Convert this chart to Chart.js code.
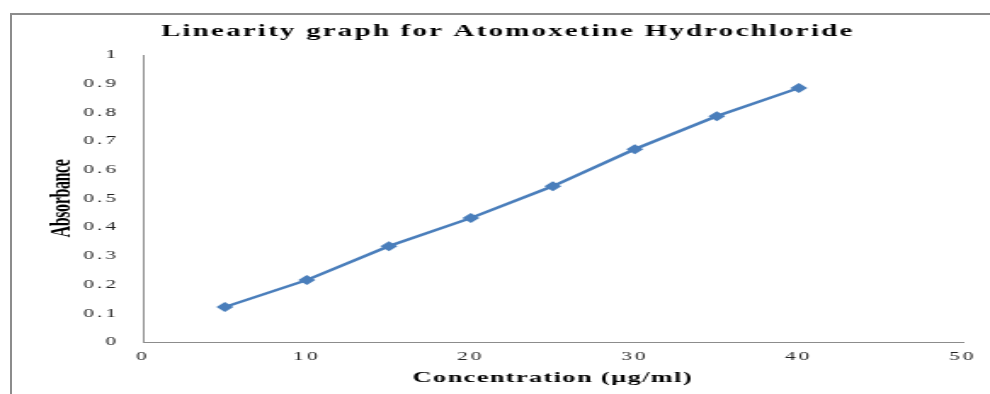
<!DOCTYPE html>
<html>
<head>
<meta charset="utf-8">
<title>Linearity graph</title>
<script src="https://cdn.jsdelivr.net/npm/chart.js@4.4.0/dist/chart.umd.min.js"></script>
<style>
    html, body { margin: 0; padding: 0; background: #fff; overflow: hidden; }
    /* outer chart frame (only top and left edges show) */
    #frame {
        position: absolute; left: 10px; top: 13px;
        width: 980px; height: 381px;
        border-top: 2px solid #8c8c8c; border-left: 2px solid #8c8c8c;
    }
    /* chart is laid out narrow and stretched sideways */
    #wrap {
        position: absolute; left: 0; top: 0;
        width: 582px; height: 394px;
        transform: scaleX(1.701); transform-origin: 0 0;
    }
</style>
</head>
<body>
<div id="frame"></div>
<div id="wrap"><canvas id="linChart"></canvas></div>
<script>
const chartTitle = "Linearity graph for Atomoxetine Hydrochloride";
const xTitle = "Concentration (µg/ml)";
const yTitle = "Absorbance";

const concentration = [5, 10, 15, 20, 25, 30, 35, 40];
const absorbance = [0.122, 0.216, 0.334, 0.432, 0.543, 0.672, 0.787, 0.885];

const xTickLabels = ["0", "10", "20", "30", "40", "50"];
const yTickLabels = ["0", "0.1", "0.2", "0.3", "0.4", "0.5", "0.6", "0.7", "0.8", "0.9", "1"];

const serif = "'Liberation Serif', 'Times New Roman', serif";
const lineBlue = "#4a7ebb";

// run a box's draw with its own letter spacing
function withSpacing(box, spacing) {
    if (!box || box._spaced) return;
    const draw = box.drawTitle ? "drawTitle" : "draw";
    const orig = box[draw];
    box[draw] = function () {
        const c = this.ctx;
        const prev = c.letterSpacing;
        c.letterSpacing = spacing;
        orig.apply(this, arguments);
        c.letterSpacing = prev;
    };
    box._spaced = true;
}

// wide character spacing for tick text, own spacing for the titles
const spacingPlugin = {
    id: "spacing",
    beforeDraw(chart) {
        chart.ctx.letterSpacing = "1.8px";
    },
    afterLayout(chart) {
        withSpacing(chart.scales.y, "-0.4px");
        withSpacing(chart.scales.x, "0.8px");
        withSpacing(chart.titleBlock, "1.3px");
    }
};

window.onload = function () {
    const ctx = document.getElementById("linChart").getContext("2d");

    new Chart(ctx, {
        type: "scatter",
        data: {
            datasets: [{
                data: concentration.map((c, i) => ({ x: c, y: absorbance[i] })),
                showLine: true,
                borderColor: lineBlue,
                backgroundColor: lineBlue,
                borderWidth: 2.5,
                pointStyle: "rectRot",
                pointRadius: 5,
                pointHoverRadius: 5,
                pointBorderWidth: 0
            }]
        },
        options: {
            responsive: true,
            maintainAspectRatio: false,
            animation: false,
            layout: { padding: { left: 31, right: 16, top: 0, bottom: 0 } },
            plugins: {
                legend: { display: false },
                tooltip: { enabled: false },
                title: {
                    display: true,
                    text: chartTitle,
                    color: "#000",
                    font: { family: serif, size: 17, weight: "bold" },
                    padding: { top: 21.8, bottom: 12.8 }
                }
            },
            scales: {
                x: {
                    type: "linear",
                    min: 0,
                    max: 50,
                    ticks: {
                        stepSize: 10,
                        padding: 7,
                        color: "#222",
                        font: { family: serif, size: 12.5 },
                        callback: (v, i) => xTickLabels[i]
                    },
                    grid: { display: false, drawTicks: false },
                    border: { display: true, color: "#8c8c8c", width: 1 },
                    title: {
                        display: true,
                        text: xTitle,
                        color: "#000",
                        font: { family: serif, size: 15.5, weight: "bold" },
                        padding: { top: 0, bottom: 6.7 }
                    },
                    afterFit: function (scale) { scale.height = 52; }
                },
                y: {
                    min: 0,
                    max: 1,
                    ticks: {
                        stepSize: 0.1,
                        padding: 14,
                        color: "#222",
                        font: { family: serif, size: 12.5 },
                        callback: (v, i) => yTickLabels[i]
                    },
                    grid: { display: false, drawTicks: false },
                    border: { display: true, color: "#8c8c8c", width: 1 },
                    title: {
                        display: true,
                        text: yTitle,
                        color: "#000",
                        font: { family: serif, size: 16, weight: "bold" },
                        padding: { top: -4, bottom: 0 }
                    },
                    afterFit: function (scale) { scale.width = 53; }
                }
            }
        },
        plugins: [spacingPlugin]
    });
};
</script>
</body>
</html>
